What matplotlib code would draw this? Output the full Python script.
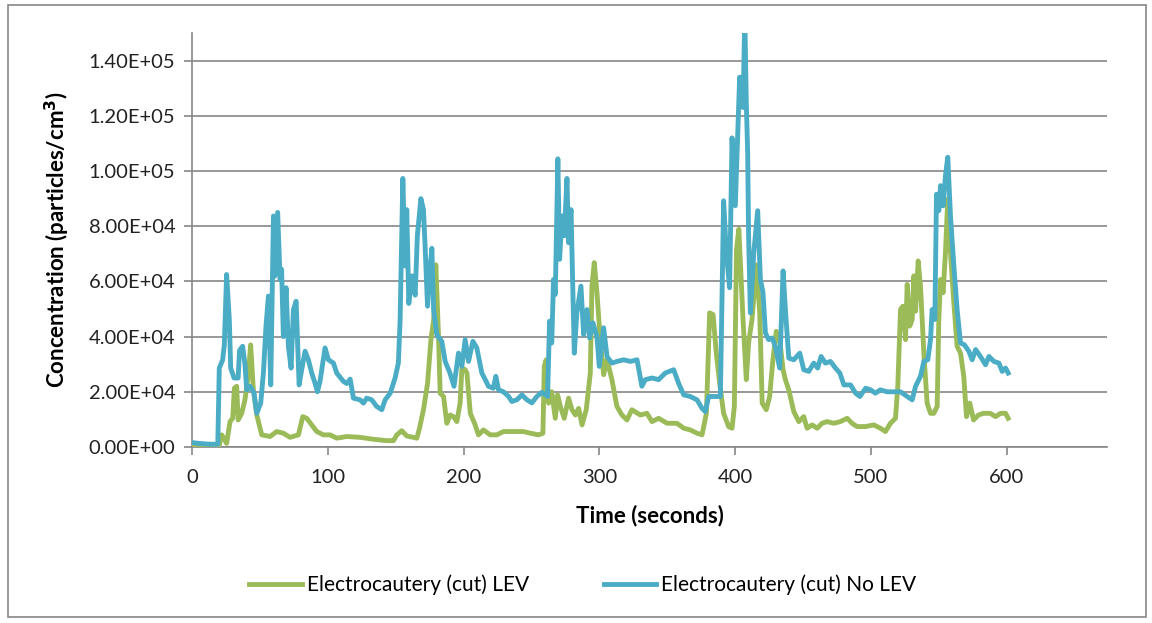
import matplotlib
matplotlib.use("Agg")
import matplotlib.pyplot as plt
from matplotlib.ticker import FuncFormatter, MultipleLocator
from matplotlib.patches import Rectangle

# Electrocautery (cut) No LEV  (time s, particles/cm3)
t_nolev = [0, 5, 10, 15, 19, 20.1, 22.6, 23.8, 25.5, 27.5, 28.5, 31, 34, 35, 37.3, 39, 40.3,
           42.8, 45.7, 47.7, 50.6, 52.6, 54.5, 56.3, 58, 60, 61.2, 63.1, 64.9, 66, 67.3, 69.3,
           71, 73, 74.7, 76.7, 78.9, 80.8, 83.3, 85.7, 88.2, 90.7, 92.4, 94.3, 96.3, 98, 100.5,
           104.2, 106.6, 111.5, 114, 116.5, 118.9, 123.8, 126.3, 128.7, 132.4, 136, 139.8,
           142.3, 146, 149.6, 152, 153.3, 155.3, 157, 158.2, 159.7, 161.9, 164.4, 166, 168.6,
           170.5, 171.7, 173.5, 175, 176.7, 178, 180.3, 184, 186.5, 190, 193, 196.3, 198.8,
           201.2, 203.7, 206.9, 209.8, 213.5, 216, 218.4, 222, 223.8, 225.8, 229.4, 233.2,
           235.6, 239.3, 243, 246.7, 250.4, 254, 257.7, 261.9, 263.4, 265, 266.3, 267.6, 269.5,
           270.8, 272.5, 274.2, 276.2, 277.4, 279.2, 281.6, 283.5, 286.5, 288.5, 291, 292.9,
           295.3, 298.3, 300, 303.2, 305.7, 309.3, 313, 318, 322.9, 327.8, 331.4, 333.9, 338.8,
           343.7, 348.6, 354.8, 358.5, 362.2, 367, 372, 375.7, 378.1, 380.6, 385.5, 389.2,
           391.6, 393.6, 396, 397.8, 400.2, 403.4, 405.9, 407.2, 408.3, 409.3, 410, 411.3,
           413.8, 416.7, 418.7, 420.6, 422.4, 424.8, 427.3, 429.7, 432.9, 435.4, 437.1, 439.6,
           443.3, 447.7, 450.6, 454.3, 458, 460.9, 463.4, 466.6, 470.3, 474, 477.2, 480.2,
           485.1, 488.8, 492, 496.2, 499.9, 503.4, 507.1, 512, 517, 521.9, 526.8, 530.5, 533,
           536.6, 539.1, 542, 544, 545.2, 547.2, 548.4, 550.1, 551.4, 553.3, 555, 556.7, 558.7,
           561.2, 563.6, 566.1, 569, 572.2, 574.7, 577.2, 580.8, 584.5, 587, 590.7, 594.4,
           596.8, 599.3, 601.2]
c_nolev = [1600, 1300, 1100, 1000, 1000, 28600, 31600, 37000, 62500, 46000, 28600, 25000, 25000,
           35000, 36500, 30000, 20700, 22000, 19500, 12200, 15900, 26800, 43800, 54700, 22500,
           83700, 62000, 85000, 60700, 64400, 40000, 57700, 36500, 28600, 49800, 52800, 22500,
           28000, 34700, 31600, 26800, 23000, 20000, 23800, 30400, 35900, 31600, 30400, 26800,
           23800, 23000, 24600, 17700, 17100, 15900, 17700, 17100, 14700, 13500, 17100, 19500,
           25000, 30400, 46000, 97300, 65600, 86000, 52000, 62000, 55000, 76500, 90000, 86000,
           72800, 51000, 63000, 72000, 49800, 40700, 38300, 31000, 26800, 22000, 34000, 29200,
           38900, 31000, 38300, 35900, 26800, 24400, 22000, 21300, 25600, 20700, 20000, 18300,
           16500, 17100, 18900, 17100, 16000, 18300, 19800, 18300, 45600, 37700, 60700, 55300,
           104400, 68000, 83700, 76500, 97300, 74000, 86000, 34000, 48600, 58300, 40700, 49800,
           39500, 45000, 40000, 29200, 43200, 32800, 30400, 31000, 31600, 31000, 31600, 22000,
           24400, 25000, 24400, 26800, 28000, 23000, 18900, 18300, 17100, 14000, 12800, 18300,
           18300, 18300, 89200, 70400, 57700, 112000, 87400, 134000, 123000, 156000, 125000,
           106800, 76500, 48600, 70400, 85600, 60700, 55900, 41300, 38900, 39500, 36500, 28600,
           63800, 49800, 32200, 31600, 34000, 28000, 27400, 30400, 28600, 32800, 30400, 31000,
           28600, 26800, 22500, 22500, 19500, 18300, 21300, 20700, 19500, 20700, 20000, 20000,
           20000, 18300, 17100, 22000, 25600, 31000, 31600, 38900, 49800, 46200, 91600, 85600,
           94700, 87400, 98300, 105000, 83700, 65600, 49800, 37700, 37000, 34700, 31600, 35300,
           32800, 29800, 32800, 31000, 30400, 27400, 28600, 26800]

# Electrocautery (cut) LEV
t_lev = [0, 5, 10, 15, 20, 21.9, 25.5, 28, 30, 31.2, 32.9, 34, 36.6, 39, 41.5, 43.2, 45.2, 47.7,
         51.4, 57.5, 62.4, 67.3, 72.2, 78.4, 81.6, 84.5, 88.2, 91.9, 96.8, 101.7, 106.6, 114,
         123.8, 133.7, 143.5, 148.4, 150.9, 154.5, 158.2, 163.1, 165.6, 167.6, 170.5, 173.5,
         176, 178, 179.6, 181.6, 182.8, 185.3, 187.7, 190.2, 192.6, 195.1, 197.5, 198.8, 201.2,
         202.5, 205, 208.6, 211, 214.7, 219.6, 224.5, 229.4, 236.8, 244.2, 249.1, 255.3, 258.5,
         259.5, 260.9, 262.7, 265, 267.6, 269.3, 271.3, 274.2, 277.4, 279.9, 282.4, 284.8,
         287.3, 290.4, 293.4, 294.6, 296.3, 298.3, 300.7, 303.2, 305.7, 309.3, 313, 316.7,
         320.4, 324, 330.2, 335.1, 338.8, 343.7, 349.9, 357.2, 362.2, 367, 372, 375.7, 378.9,
         381.3, 383.8, 386.2, 388.7, 391.6, 395.3, 397.8, 399.5, 401.1, 402.8, 405.9, 408.3,
         410, 412.5, 415.7, 418.2, 420, 423, 425.5, 427.9, 430.4, 432.9, 435.4, 437.1, 439.6,
         443.3, 447, 450.6, 453.1, 456.8, 460.5, 464.1, 467.8, 472.7, 477.6, 482.6, 486.2,
         489.9, 496, 502.2, 507.1, 510.8, 514.5, 518.2, 519.9, 521.9, 523.6, 525.6, 526.8,
         528.7, 530.5, 531.7, 533, 534.9, 536.6, 539.1, 541.5, 544, 546.4, 548.9, 550.1, 551.4,
         553.3, 555, 556.7, 558.7, 561.2, 563.6, 566.1, 568.5, 570.5, 572.9, 575.7, 579.4, 583,
         588, 591.9, 595.6, 599.3, 601.2]
c_lev = [200, 300, 200, 300, 500, 4400, 1300, 9200, 10400, 21300, 22000, 9800, 12200, 17100,
         26200, 37000, 20700, 11600, 4400, 3800, 5600, 5000, 3500, 4400, 11000, 10400, 8000,
         5600, 4400, 4400, 3200, 3800, 3500, 2800, 2300, 2300, 4400, 5900, 4000, 3500, 3200,
         6800, 13500, 23000, 38900, 46000, 66000, 40000, 19500, 18300, 8600, 11600, 11000, 9200,
         15900, 28600, 28000, 26800, 12200, 8000, 4400, 6200, 4400, 4400, 5600, 5600, 5600,
         5000, 4400, 5000, 29200, 31600, 15900, 20000, 10400, 18900, 14700, 10400, 17700, 13500,
         11600, 14000, 8000, 13500, 26800, 58300, 66800, 55900, 38900, 26200, 31600, 24400,
         14700, 11600, 9800, 13500, 11600, 12200, 9200, 10400, 8600, 8600, 6800, 6200, 5000,
         4400, 12200, 48600, 48000, 34000, 23000, 12200, 7400, 6800, 14700, 71600, 78900, 46200,
         24400, 37700, 46200, 66000, 48600, 15900, 13500, 18300, 31600, 41900, 38900, 28000,
         24400, 20700, 12800, 9200, 11000, 6800, 8000, 6800, 8600, 9200, 8600, 9200, 10400,
         8600, 7400, 7400, 8000, 6800, 5600, 8600, 10400, 22000, 49800, 51000, 38900, 58900,
         43800, 46200, 62000, 49200, 67400, 58300, 34000, 15900, 12200, 12200, 14700, 46200,
         60700, 55900, 70400, 89800, 70400, 52200, 36500, 34000, 25600, 11000, 15900, 9800,
         11600, 12200, 12200, 11000, 12200, 12200, 10400]

green = "#9BBB59"
blue = "#4BACC6"
grid_grey = "#868686"

plt.rcParams['font.family'] = ['Lato', 'DejaVu Sans']

fig = plt.figure(figsize=(11.52, 6.23), dpi=100)
ax = fig.add_axes([192/1152, 1 - 447/623, (1107-192)/1152, (447-33)/623])

ax.plot(t_lev, c_lev, color=green, lw=3.5, label="Electrocautery (cut) LEV",
        solid_joinstyle='round', zorder=3)
ax.plot(t_nolev, c_nolev, color=blue, lw=3.5, label="Electrocautery (cut) No LEV",
        solid_joinstyle='round', zorder=4)

ax.set_xlim(0, 674)
ax.set_ylim(0, 150000)
ax.set_xticks([0, 100, 200, 300, 400, 500, 600])
ax.yaxis.set_major_locator(MultipleLocator(20000))
ax.yaxis.set_major_formatter(FuncFormatter(lambda v, p: f"{v:.2E}"))
ax.grid(axis='y', color=grid_grey, lw=1.2)
ax.set_axisbelow(True)

for s in ['top', 'right']:
    ax.spines[s].set_visible(False)
for s in ['left', 'bottom']:
    ax.spines[s].set_color(grid_grey)
    ax.spines[s].set_linewidth(1.2)
ax.tick_params(axis='both', colors=grid_grey, labelcolor='#222222', labelsize=14.5,
               length=6, width=1.2)
ax.tick_params(axis='x', pad=10)
ax.tick_params(axis='y', pad=6)

ax.set_xlabel("Time (seconds)", fontsize=16, fontweight='bold', labelpad=13)
ax.set_ylabel("Concentration (particles/cm$^{\\mathbf{3}}$)", fontsize=16,
              fontweight='bold', labelpad=12)

fig.legend(loc='center', bbox_to_anchor=(0.506, 0.061), ncol=2, frameon=False,
           fontsize=15, handlelength=2.5, columnspacing=3.6, handletextpad=0.25)

fig.patches.append(Rectangle((8/1152, 6/623), 1138/1152, 612/623, transform=fig.transFigure,
                             fill=False, edgecolor=grid_grey, lw=1.2))

fig.savefig("out.png", dpi=100)
